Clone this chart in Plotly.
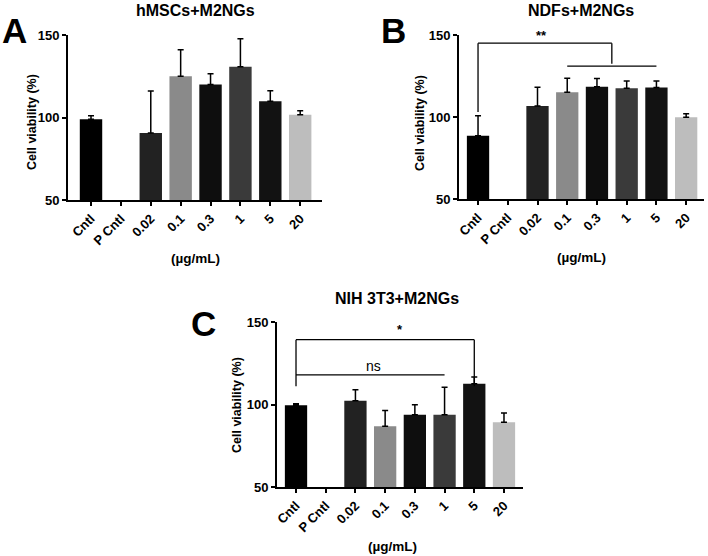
import plotly.graph_objects as go

categories = ["Cntl", "P Cntl", "0.02", "0.1", "0.3", "1", "5", "20"]
bar_colors = ["#000000", "#000000", "#222222", "#8a8a8a", "#0e0e0e", "#3a3a3a", "#121212", "#bdbdbd"]

a_values = [99, None, 90.6, 125, 120, 130.8, 109.8, 101.7]
a_sd = [2, 0, 25.5, 16, 6.5, 17, 6.4, 2.4]

b_values = [88.6, None, 106.7, 115.1, 118.5, 117.5, 118, 99.8]
b_sd = [12.2, 0, 11.4, 8.5, 5, 4.5, 4, 2.2]

c_values = [99.6, None, 102.3, 86.8, 93.8, 93.8, 112.6, 89.2]
c_sd = [0.8, 0, 6.7, 9.5, 6, 16.6, 4, 5.6]

titles = ["hMSCs+M2NGs", "NDFs+M2NGs", "NIH 3T3+M2NGs"]
letters = ["A", "B", "C"]
y_title = "Cell viability (%)"
x_unit = "(µg/mL)"

W, H = 708, 556
FONT = "Liberation Sans, Arial, sans-serif"


def px(x):
    return x / W


def py(y):
    return 1 - y / H


# panel pixel boxes in window coords: (x0, x1, y_top(150), y_bottom(50), xrange)
panels = [
    (68, 322, 35, 200, [-0.77, 7.73]),
    (459, 704, 35, 199, [-0.64, 7.6]),
    (277, 523, 322, 487, [-0.64, 7.64]),
]
title_pos = [(195, 11), (581, 11), (397, 298)]
unit_pos = [(195, 258), (581, 257), (392, 546)]
ytitle_pos = [(32, 122), (420, 123), (237, 405)]
letter_pos = [(14, 31), (393, 30), (203, 323)]
datasets = [(a_values, a_sd), (b_values, b_sd), (c_values, c_sd)]

fig = go.Figure()
for i, ((vals, sd), (x0, x1, yt, yb, xr)) in enumerate(zip(datasets, panels)):
    n = "" if i == 0 else str(i + 1)
    fig.add_trace(go.Bar(
        x=list(range(len(categories))), y=vals, base=0,
        marker=dict(color=bar_colors, line=dict(width=0)),
        width=0.75,
        error_y=dict(type="data", symmetric=False, array=sd,
                     arrayminus=[0] * len(sd), color="black",
                     thickness=1.5, width=3),
        xaxis="x" + n, yaxis="y" + n, showlegend=False, hoverinfo="skip",
    ))
    fig.update_layout(**{
        "xaxis" + n: dict(
            domain=[px(x0), px(x1)], range=xr, tickmode="array",
            tickvals=list(range(len(categories))), ticktext=categories,
            tickangle=-45, showline=True, linecolor="black", linewidth=2,
            ticks="outside", ticklen=4, tickwidth=1.5, tickcolor="black",
            showgrid=False, zeroline=False, anchor="y" + n, automargin=False,
            tickfont=dict(family=FONT, size=13, color="black", weight="bold"),
        ),
        "yaxis" + n: dict(
            domain=[py(yb), py(yt)], range=[50, 150], tickvals=[50, 100, 150],
            showline=True, linecolor="black", linewidth=2,
            ticks="outside", ticklen=4, tickwidth=1.5, tickcolor="black",
            showgrid=False, zeroline=False, anchor="x" + n, automargin=False,
            tickfont=dict(family=FONT, size=13, color="black", weight="bold"),
        ),
    })
    tx, ty = title_pos[i]
    fig.add_annotation(x=px(tx), y=py(ty), xref="paper", yref="paper",
                       text=titles[i], showarrow=False, xanchor="center", yanchor="middle",
                       font=dict(family=FONT, size=16, color="black", weight="bold"))
    ux, uy = unit_pos[i]
    fig.add_annotation(x=px(ux), y=py(uy), xref="paper", yref="paper",
                       text=x_unit, showarrow=False, xanchor="center", yanchor="middle",
                       font=dict(family=FONT, size=13.5, color="black", weight="bold"))
    vx, vy = ytitle_pos[i]
    fig.add_annotation(x=px(vx), y=py(vy), xref="paper", yref="paper",
                       text=y_title, showarrow=False, textangle=-90,
                       xanchor="center", yanchor="middle",
                       font=dict(family=FONT, size=12.5, color="black", weight="bold"))

# panel letters
for letter, (lx, ly) in zip(letters, letter_pos):
    fig.add_annotation(x=px(lx), y=py(ly), xref="paper", yref="paper",
                       text=letter, showarrow=False, xanchor="center", yanchor="middle",
                       font=dict(family=FONT, size=35, color="black", weight="bold"))


def seg(xa, ya, xb, yb_, xr, yr):
    fig.add_shape(type="line", x0=xa, y0=ya, x1=xb, y1=yb_, xref=xr, yref=yr,
                  line=dict(color="black", width=1.3))


# Panel B brackets
seg(0, 145, 4.5, 145, "x2", "y2")
seg(0, 145, 0, 103, "x2", "y2")
seg(4.5, 145, 4.5, 132.5, "x2", "y2")
seg(3, 131, 6, 131, "x2", "y2")
fig.add_annotation(x=2.15, y=150, xref="x2", yref="y2", text="**", showarrow=False,
                   font=dict(family=FONT, size=13, color="black", weight="bold"))

# Panel C brackets
seg(0, 139.3, 6, 139.3, "x3", "y3")
seg(0, 139.3, 0, 111, "x3", "y3")
seg(6, 139.3, 6, 111, "x3", "y3")
seg(0, 118, 5, 118, "x3", "y3")
fig.add_annotation(x=3.5, y=145.5, xref="x3", yref="y3", text="*", showarrow=False,
                   font=dict(family=FONT, size=13, color="black", weight="bold"))
fig.add_annotation(x=2.6, y=123.5, xref="x3", yref="y3", text="ns", showarrow=False,
                   font=dict(family=FONT, size=14, color="black"))

fig.update_layout(width=W, height=H, margin=dict(l=0, r=0, t=0, b=0),
                  paper_bgcolor="white", plot_bgcolor="white", bargap=0.25)
fig.write_html("out.html", config={"displayModeBar": False},
               post_script="document.body.style.margin='0';document.body.style.overflow='hidden';")
